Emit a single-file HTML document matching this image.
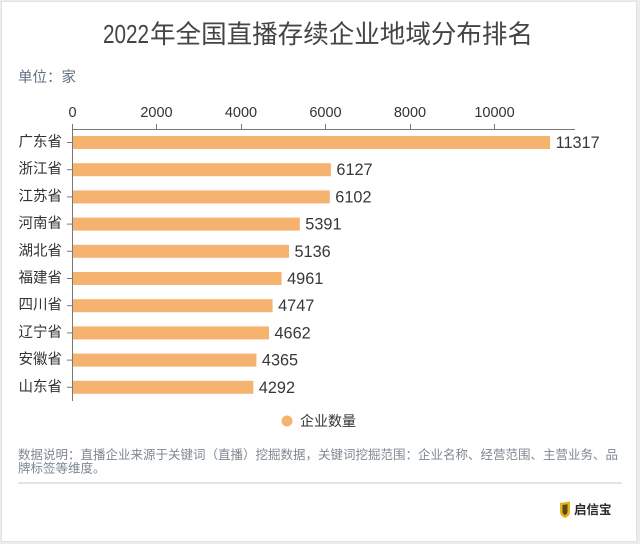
<!DOCTYPE html>
<html>
<head>
<meta charset="utf-8">
<style>
  html,body{margin:0;padding:0;background:#ececec;}
  body{width:640px;height:544px;overflow:hidden;position:relative;}
  svg{position:absolute;left:0;top:0;}
  text{font-family:"Liberation Sans","Noto Sans CJK SC",sans-serif;}
</style>
</head>
<body>
<svg width="640" height="544" viewBox="0 0 640 544" xmlns="http://www.w3.org/2000/svg">
  <rect x="1.5" y="1.5" width="635" height="540" fill="#ffffff" stroke="#e2e2e2" stroke-width="1"/>

  <!-- Title -->
  <text x="103" y="35" font-size="25.5" fill="#444" dominant-baseline="central" textLength="46" lengthAdjust="spacingAndGlyphs">2022</text>
  <text x="150" y="35" font-size="25.5" fill="#444" dominant-baseline="central" textLength="383" lengthAdjust="spacingAndGlyphs">年全国直播存续企业地域分布排名</text>

  <!-- Unit -->
  <text x="18" y="78" font-size="14.5" fill="#5f7282" dominant-baseline="central">单位：家</text>

  <!-- X axis -->
  <line x1="72" y1="129.5" x2="575" y2="129.5" stroke="#777" stroke-width="1"/>
  <g stroke="#777" stroke-width="1">
    <line x1="72.5" y1="124" x2="72.5" y2="129"/>
    <line x1="156.5" y1="124" x2="156.5" y2="129"/>
    <line x1="241.5" y1="124" x2="241.5" y2="129"/>
    <line x1="325.5" y1="124" x2="325.5" y2="129"/>
    <line x1="410.5" y1="124" x2="410.5" y2="129"/>
    <line x1="494.5" y1="124" x2="494.5" y2="129"/>
  </g>
  <g font-size="14.5" fill="#333" text-anchor="middle" dominant-baseline="central">
    <text x="72.5" y="113">0</text>
    <text x="156.5" y="113">2000</text>
    <text x="241" y="113">4000</text>
    <text x="325.5" y="113">6000</text>
    <text x="410" y="113">8000</text>
    <text x="494.5" y="113">10000</text>
  </g>

  <!-- Y axis -->
  <line x1="72.5" y1="129" x2="72.5" y2="401" stroke="#777" stroke-width="1"/>
  <g stroke="#777" stroke-width="1">
    <line x1="67" y1="142.5" x2="72" y2="142.5"/>
    <line x1="67" y1="169.7" x2="72" y2="169.7"/>
    <line x1="67" y1="196.9" x2="72" y2="196.9"/>
    <line x1="67" y1="224.1" x2="72" y2="224.1"/>
    <line x1="67" y1="251.3" x2="72" y2="251.3"/>
    <line x1="67" y1="278.5" x2="72" y2="278.5"/>
    <line x1="67" y1="305.7" x2="72" y2="305.7"/>
    <line x1="67" y1="332.9" x2="72" y2="332.9"/>
    <line x1="67" y1="360.1" x2="72" y2="360.1"/>
    <line x1="67" y1="387.3" x2="72" y2="387.3"/>
  </g>

  <!-- Bars -->
  <g fill="#F6B36F">
    <rect x="73" y="136" width="477.1" height="13"/>
    <rect x="73" y="163.2" width="257.9" height="13"/>
    <rect x="73" y="190.4" width="256.8" height="13"/>
    <rect x="73" y="217.6" width="226.8" height="13"/>
    <rect x="73" y="244.8" width="216" height="13"/>
    <rect x="73" y="272" width="208.6" height="13"/>
    <rect x="73" y="299.2" width="199.6" height="13"/>
    <rect x="73" y="326.4" width="196" height="13"/>
    <rect x="73" y="353.6" width="183.4" height="13"/>
    <rect x="73" y="380.8" width="180.3" height="13"/>
  </g>

  <!-- Category labels -->
  <g font-size="14.5" fill="#333" text-anchor="end" dominant-baseline="central">
    <text x="62" y="142.5">广东省</text>
    <text x="62" y="169.7">浙江省</text>
    <text x="62" y="196.9">江苏省</text>
    <text x="62" y="224.1">河南省</text>
    <text x="62" y="251.3">湖北省</text>
    <text x="62" y="278.5">福建省</text>
    <text x="62" y="305.7">四川省</text>
    <text x="62" y="332.9">辽宁省</text>
    <text x="62" y="360.1">安徽省</text>
    <text x="62" y="387.3">山东省</text>
  </g>

  <!-- Value labels -->
  <g font-size="16.3" fill="#383838" dominant-baseline="central">
    <text x="555.6" y="143">11317</text>
    <text x="336.4" y="170.2">6127</text>
    <text x="335.3" y="197.4">6102</text>
    <text x="305.3" y="224.6">5391</text>
    <text x="294.5" y="251.8">5136</text>
    <text x="287.1" y="279">4961</text>
    <text x="278.1" y="306.2">4747</text>
    <text x="274.5" y="333.4">4662</text>
    <text x="261.9" y="360.6">4365</text>
    <text x="258.8" y="387.8">4292</text>
  </g>

  <!-- Legend -->
  <circle cx="287" cy="421" r="5.5" fill="#F6B36F"/>
  <text x="300" y="421" font-size="14" fill="#333" dominant-baseline="central">企业数量</text>

  <!-- Footer note -->
  <text x="18" y="455" font-size="12.5" fill="#7d8792" dominant-baseline="central" textLength="600" lengthAdjust="spacingAndGlyphs">数据说明：直播企业来源于关键词（直播）挖掘数据，关键词挖掘范围：企业名称、经营范围、主营业务、品</text>
  <text x="18" y="468.5" font-size="12.5" fill="#7d8792" dominant-baseline="central">牌标签等维度。</text>

  <line x1="18" y1="483" x2="622" y2="483" stroke="#e5e5e5" stroke-width="2"/>

  <!-- Logo -->
  <path d="M560,503 L570,501.5 L570,512 Q570,516 565,518 Q560,516 560,512 Z" fill="#E8B21C"/>
  <path d="M562.5,505 L567.5,504.3 L567.5,511.5 Q567.5,514 565,515.2 Q562.5,514 562.5,511.5 Z" fill="#5a4a1a"/>
  <text x="574" y="510" font-size="12.5" font-weight="bold" fill="#2a2a2a" dominant-baseline="central">启信宝</text>
</svg>
</body>
</html>
